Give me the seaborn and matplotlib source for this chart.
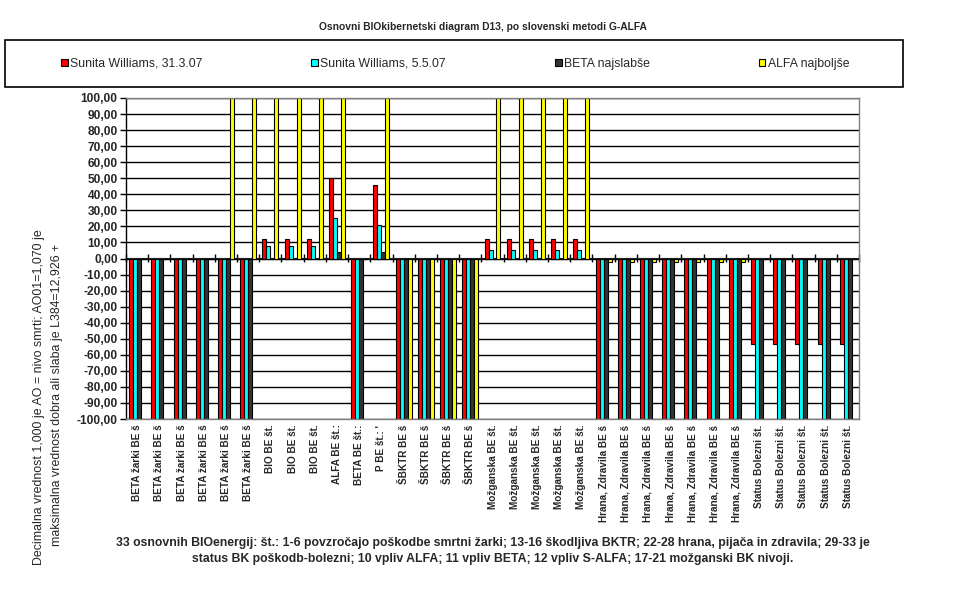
import numpy as np
import pandas as pd
import matplotlib
import matplotlib.pyplot as plt
import seaborn as sns
from matplotlib.patches import Rectangle
from matplotlib.ticker import FuncFormatter

matplotlib.use("Agg")

# category labels (33 basic bio-energies)
categories = (["BETA žarki BE š"] * 6 + ["BIO BE št."] * 3
              + ["ALFA BE št.:", "BETA BE št.:", "P BE št.: '"]
              + ["ŠBKTR BE š"] * 4 + ["Možganska BE št."] * 5
              + ["Hrana, Zdravila BE š"] * 7 + ["Status Bolezni št."] * 5)

series_names = ["Sunita Williams, 31.3.07", "Sunita Williams, 5.5.07",
                "BETA najslabše", "ALFA najboljše"]

sunita_31_3 = [-100, -100, -100, -100, -100, -100,
               12, 12, 12, 50, -100, 46,
               -100, -100, -100, -100,
               12, 12, 12, 12, 12,
               -100, -100, -100, -100, -100, -100, -100,
               -53, -53, -53, -53, -53]
sunita_5_5 = [-100, -100, -100, -100, -100, -100,
              8, 8, 8, 25, -100, 21,
              -100, -100, -100, -100,
              5, 5, 5, 5, 5,
              -100, -100, -100, -100, -100, -100, -100,
              -100, -100, -100, -100, -100]
beta_worst = [-100, -100, -100, -100, -100, -100,
              0, 0, 0, 4, -100, 4,
              -100, -100, -100, -100,
              0, 0, 0, 0, 0,
              -100, -100, -100, -100, -100, -100, -100,
              -100, -100, -100, -100, -100]
alfa_best = [0, 0, 0, 0, 100, 100,
             100, 100, 100, 100, 0, 100,
             -100, -100, -100, -100,
             100, 100, 100, 100, 100,
             -2, -2, -2, -2, -2, -2, -2,
             0, 0, 0, 0, 0]

colors = ["#ff0000", "#00ffff", "#333333", "#ffff00"]

rows = []
for name, vals in zip(series_names, [sunita_31_3, sunita_5_5, beta_worst, alfa_best]):
    for i, v in enumerate(vals):
        rows.append({"idx": i, "series": name, "value": v})
df = pd.DataFrame(rows)

sns.set_style("white")
plt.rcParams['font.family'] = ['Liberation Sans', 'DejaVu Sans']

fig = plt.figure(figsize=(9.77, 6.04), dpi=100)
ax = fig.add_axes([126 / 977, 1 - 419 / 604, 733 / 977, 321 / 604])

sns.barplot(data=df, x="idx", y="value", hue="series", hue_order=series_names,
            palette=colors, width=0.72, edgecolor="black", linewidth=0.8,
            saturation=1, ax=ax)

handles, labels = ax.get_legend_handles_labels()
ax.get_legend().remove()

ax.set_ylim(-100, 100)
ax.set_xlim(-0.5, len(categories) - 0.5)
ax.set_yticks(np.arange(-100, 101, 10))
ax.yaxis.set_major_formatter(FuncFormatter(lambda v, p: f"{v:.2f}".replace(".", ",")))
ax.yaxis.grid(True, color="black", linewidth=1)
ax.set_axisbelow(True)
ax.tick_params(axis="y", left=True, length=4, width=1, direction="out", pad=2,
               labelsize=8.6, color="black")
for t in ax.get_yticklabels():
    t.set_fontweight("bold")

ax.set_xticks(range(len(categories)))
ax.set_xticklabels(categories, rotation=90, fontsize=7.2, fontweight="bold", va="top")
ax.tick_params(axis="x", bottom=False, length=0, pad=4)
ax.set_xlabel("")
ax.set_ylabel("")

for s in ["top", "right", "bottom"]:
    ax.spines[s].set_color("#808080")
    ax.spines[s].set_linewidth(1)
ax.spines["left"].set_color("black")
ax.spines["left"].set_linewidth(1)

# category axis crossing at zero, with cross ticks between categories
sec = ax.secondary_xaxis(0.5)
sec.set_xticks(np.arange(-0.5, len(categories), 1.0))
sec.tick_params(axis="x", direction="inout", length=6, width=1, color="black",
                labelbottom=False, labeltop=False)
sec.spines["bottom"].set_color("black")
sec.spines["bottom"].set_linewidth(1.2)

# legend box
fig.add_artist(Rectangle((5 / 977, 1 - 87 / 604), 898 / 977, 47 / 604,
                         transform=fig.transFigure, fill=False,
                         edgecolor="black", linewidth=1.2))
fig.legend(handles, labels, loc="center left", bbox_to_anchor=(50 / 977, 1 - 64 / 604),
           ncol=4, frameon=False, fontsize=8.8, handlelength=0.55, handleheight=0.55,
           handletextpad=0.2, columnspacing=8.9)

fig.text(483 / 977, 1 - 27 / 604,
         "Osnovni BIOkibernetski diagram D13, po slovenski metodi G-ALFA",
         ha="center", va="center", fontsize=7.4, fontweight="bold")

fig.text(39 / 977, 1 - 397 / 604,
         "Decimalna vrednost 1,000 je AO = nivo smrti; AO01=1,070 je",
         rotation=90, ha="center", va="center", fontsize=8.9)
fig.text(57 / 977, 1 - 395 / 604,
         "maksimalna vrednost dobra ali slaba je L384=12,926 +",
         rotation=90, ha="center", va="center", fontsize=8.9)

fig.text(493 / 977, 1 - 543 / 604,
         "33 osnovnih BIOenergij: št.: 1-6 povzročajo poškodbe smrtni žarki; 13-16 škodljiva BKTR; "
         "22-28 hrana, pijača in zdravila; 29-33 je",
         ha="center", va="center", fontsize=8.8, fontweight="bold")
fig.text(493 / 977, 1 - 559 / 604,
         "status BK poškodb-bolezni; 10 vpliv ALFA; 11 vpliv BETA; 12 vpliv S-ALFA; "
         "17-21 možganski BK nivoji.",
         ha="center", va="center", fontsize=8.8, fontweight="bold")

fig.savefig("out.png", dpi=100, facecolor="white")
